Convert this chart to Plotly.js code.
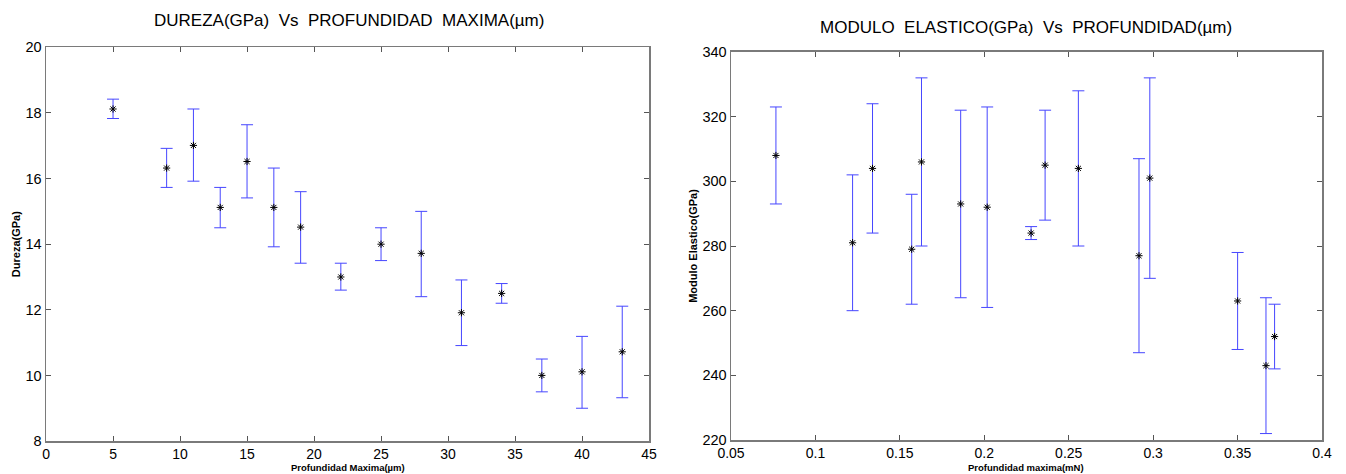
<!DOCTYPE html>
<html>
<head>
<meta charset="utf-8">
<script src="https://cdn.plot.ly/plotly-3.0.1.min.js"></script>
<style>html,body{margin:0;padding:0;background:#fff;}#chart{width:1346px;height:474px;}</style>
</head>
<body>
<div id="chart"></div>
<script>
// Left chart: Dureza vs Profundidad Maxima
const durezaX     = [5, 9, 11, 13, 15, 17, 19, 22, 25, 28, 31, 34, 37, 40, 43];
const durezaY     = [18.12, 16.32, 17.01, 15.12, 16.52, 15.12, 14.52, 13.0, 14.0, 13.72, 11.91, 12.5, 10.0, 10.11, 10.72];
const durezaUpper = [18.42, 16.92, 18.12, 15.73, 17.64, 16.32, 15.6, 13.42, 14.5, 15.0, 12.91, 12.8, 10.5, 11.19, 12.11];
const durezaLower = [17.83, 15.73, 15.92, 14.5, 15.41, 13.92, 13.42, 12.6, 13.5, 12.4, 10.91, 12.2, 9.5, 9.0, 9.32];

// Right chart: Modulo Elastico vs Profundidad
const moduloX     = [0.0766, 0.122, 0.1338, 0.157, 0.1628, 0.186, 0.2017, 0.2277, 0.236, 0.2557, 0.2916, 0.298, 0.35, 0.3668, 0.3719];
const moduloY     = [308, 281, 304, 279, 306, 293, 292, 284, 305, 304, 277, 301, 263, 243, 252];
const moduloUpper = [323, 302, 324, 296, 332, 322, 323, 286, 322, 328, 307, 332, 278, 264, 262];
const moduloLower = [293, 260, 284, 262, 280, 264, 261, 282, 288, 280, 247, 270, 248, 222, 242];

const leftTicks  = [0, 5, 10, 15, 20, 25, 30, 35, 40, 45];
const leftYTicks = [8, 10, 12, 14, 16, 18, 20];
const rightTicks = [0.05, 0.1, 0.15, 0.2, 0.25, 0.3, 0.35, 0.4];
const rightTickText = ['0.05', '0.1', '0.15', '0.2', '0.25', '0.3', '0.35', '0.4'];
const rightYTicks = [220, 240, 260, 280, 300, 320, 340];

const NB = '\u00a0';
const titleLeft  = 'DUREZA(GPa)' + NB + NB + 'Vs' + NB + NB + 'PROFUNDIDAD' + NB + NB + 'MAXIMA(µm)';
const titleRight = 'MODULO' + NB + NB + 'ELASTICO(GPa)' + NB + NB + 'Vs' + NB + NB + 'PROFUNDIDAD(µm)';
const xTitleLeft  = 'Profundidad Maxima(µm)';
const xTitleRight = 'Profundidad maxima(mN)';

const FONT = 'Liberation Sans Narrow, Arial Narrow, Liberation Sans, Arial, sans-serif';
const errColor = 'rgb(70,70,255)';

function diff(a, b) { return a.map((v, i) => v - b[i]); }

const traces = [
  {
    x: durezaX, y: durezaY, type: 'scatter', mode: 'markers',
    xaxis: 'x', yaxis: 'y',
    marker: { symbol: 'asterisk-open', size: 6, color: '#000', line: { color: '#000', width: 1 } },
    error_y: { type: 'data', symmetric: false, array: diff(durezaUpper, durezaY), arrayminus: diff(durezaY, durezaLower),
               color: errColor, thickness: 1, width: 6 },
    showlegend: false, hoverinfo: 'x+y'
  },
  {
    x: moduloX, y: moduloY, type: 'scatter', mode: 'markers',
    xaxis: 'x2', yaxis: 'y2',
    marker: { symbol: 'asterisk-open', size: 6, color: '#000', line: { color: '#000', width: 1 } },
    error_y: { type: 'data', symmetric: false, array: diff(moduloUpper, moduloY), arrayminus: diff(moduloY, moduloLower),
               color: errColor, thickness: 1, width: 6 },
    showlegend: false, hoverinfo: 'x+y'
  }
];

const axisCommon = {
  showgrid: false, zeroline: false, showline: true, linecolor: '#7a7a7a', linewidth: 1.5,
  mirror: 'ticks', ticks: 'inside', ticklen: 5, tickcolor: '#555', tickwidth: 1,
  tickfont: { family: FONT, size: 14.5, color: '#000' }
};

const layout = {
  width: 1346, height: 474,
  margin: { l: 0, r: 0, t: 0, b: 0 },
  paper_bgcolor: '#fff', plot_bgcolor: '#fff',
  font: { family: FONT, color: '#000' },
  xaxis: Object.assign({}, axisCommon, {
    domain: [0.0342, 0.4822], range: [0, 45], tickvals: leftTicks, anchor: 'y',
    tickfont: { family: FONT, size: 14, color: '#000' }
  }),
  yaxis: Object.assign({}, axisCommon, {
    domain: [0.0695, 0.9002], range: [8, 20], tickvals: leftYTicks, anchor: 'x',
    title: { text: 'Dureza(GPa)', font: { family: FONT, size: 11, color: '#000', weight: 'bold' }, standoff: 2 }
  }),
  xaxis2: Object.assign({}, axisCommon, {
    domain: [0.5431, 0.9822], range: [0.05, 0.4], tickvals: rightTicks, ticktext: rightTickText, anchor: 'y2',
    tickfont: { family: FONT, size: 14, color: '#000' }
  }),
  yaxis2: Object.assign({}, axisCommon, {
    domain: [0.0717, 0.8903], range: [220, 340], tickvals: rightYTicks, anchor: 'x2',
    title: { text: 'Modulo Elastico(GPa)', font: { family: FONT, size: 11, color: '#000', weight: 'bold' }, standoff: 2 }
  }),
  annotations: [
    { text: titleLeft, xref: 'paper', yref: 'paper', x: 349 / 1346, y: 1 - 20 / 474, xanchor: 'center', yanchor: 'middle',
      showarrow: false, font: { family: FONT, size: 17, color: '#000' } },
    { text: titleRight, xref: 'paper', yref: 'paper', x: 1026 / 1346, y: 1 - 28 / 474, xanchor: 'center', yanchor: 'middle',
      showarrow: false, font: { family: FONT, size: 17, color: '#000' } },
    { text: xTitleLeft, xref: 'paper', yref: 'paper', x: 348 / 1346, y: 0, xanchor: 'center', yanchor: 'bottom',
      borderpad: 0, showarrow: false, font: { family: FONT, size: 9.5, color: '#000', weight: 'bold' } },
    { text: xTitleRight, xref: 'paper', yref: 'paper', x: 1026 / 1346, y: 0, xanchor: 'center', yanchor: 'bottom',
      borderpad: 0, showarrow: false, font: { family: FONT, size: 9.5, color: '#000', weight: 'bold' } }
  ]
};

Plotly.newPlot('chart', traces, layout, { staticPlot: true, displayModeBar: false });
</script>
</body>
</html>
